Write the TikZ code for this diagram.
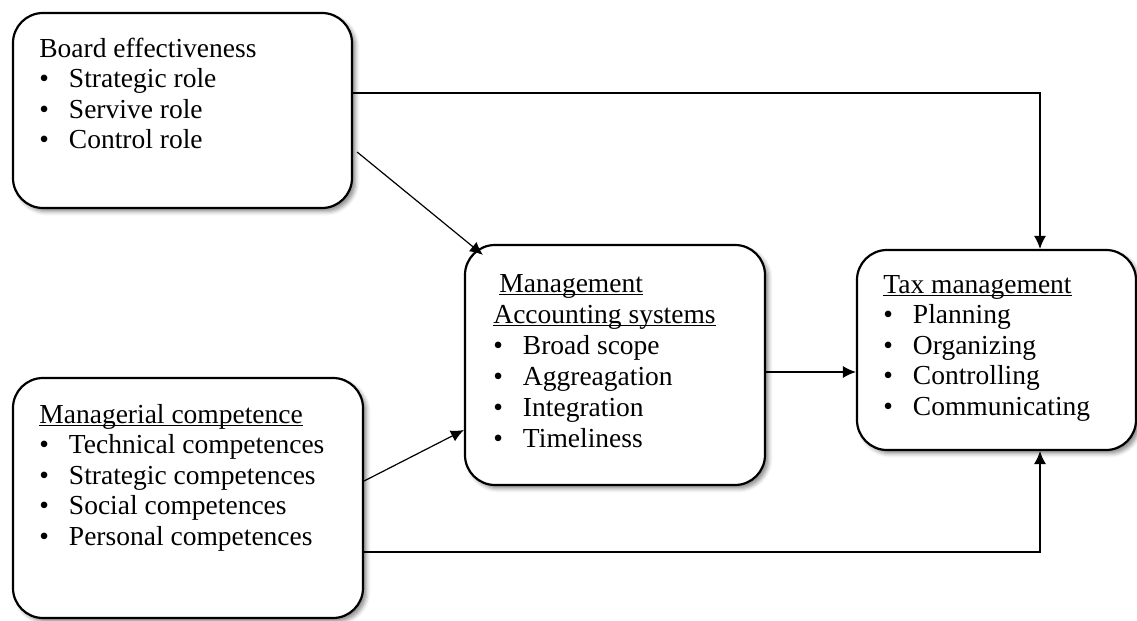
\documentclass[tikz,border=0pt]{standalone}
\usepackage{fontspec}
\setmainfont{Liberation Serif}
\usetikzlibrary{arrows.meta,shadows.blur,calc}
\newcommand\ulx[1]{\setbox0\hbox{#1}\rlap{\rule[-1.6pt]{\wd0}{0.5pt}}\box0}
\newcommand\itm[1]{\makebox[14.8pt][l]{\textbullet}#1}
\begin{document}
\begin{tikzpicture}[x=0.5pt,y=-0.5pt,
  box/.style={draw=black,line width=1.1pt,rounded corners=15pt,fill=white,
    blur shadow={shadow xshift=1.8pt,shadow yshift=-1.8pt,shadow blur radius=2pt,shadow opacity=45},
    inner sep=0pt},
  txt/.style={anchor=base west,inner sep=0pt,font=\fontsize{13.75pt}{15.25pt}\selectfont},
  arr/.style={line width=0.6pt,-{Latex[length=6.5pt,width=6pt]}}]
\useasboundingbox (0,0) rectangle (1137,621);
% boxes
\node[box,minimum width=169.5pt,minimum height=97.5pt] (b1) at (182.5,110.5) {};
\node[box,minimum width=175pt,minimum height=120pt] (b2) at (188,498) {};
\node[box,minimum width=150pt,minimum height=120pt] (b3) at (615,365) {};
\node[box,minimum width=139.5pt,minimum height=100pt] (b4) at (996.5,350) {};
% texts
\node[txt] (t1) at (39,57) {\def\arraystretch{1}\begin{tabular}[t]{@{}l@{}}
Board effectiveness\\ \itm{Strategic role}\\ \itm{Servive role}\\ \itm{Control role}\end{tabular}};
\node[txt] (t2) at (39,423) {\def\arraystretch{1}\begin{tabular}[t]{@{}l@{}}
\ulx{Managerial competence}\\ \itm{Technical competences}\\ \itm{Strategic competences}\\ \itm{Social competences}\\ \itm{Personal competences}\end{tabular}};
\node[txt] (t3) at (493,292) {\def\arraystretch{1.02}\begin{tabular}[t]{@{}l@{}}
\hspace{3pt}\ulx{Management}\\ \ulx{Accounting systems}\\ \itm{Broad scope}\\ \itm{Aggreagation}\\ \itm{Integration}\\ \itm{Timeliness}\end{tabular}};
\node[txt] (t4) at (883,293) {\def\arraystretch{1}\begin{tabular}[t]{@{}l@{}}
\ulx{Tax management}\\ \itm{Planning}\\ \itm{Organizing}\\ \itm{Controlling}\\ \itm{Communicating}\end{tabular}};
% connectors
\coordinate (k1) at (1040,93);
\coordinate (k2) at (1040,552);
\draw[arr] (b1.east |- k1) -- (k1) -- (k1 |- b4.north);
\draw[arr] ($(b1.east)+(4,41.5)$) -- ($(b3.north west)+(19,11)$);
\draw[arr] ($(b2.east)+(0,-17)$) -- (b3.west |- 0,430);
\draw[arr] (b3.east |- 0,372) -- (b4.west |- 0,372);
\draw[arr] (b2.east |- k2) -- (k2) -- (k2 |- b4.south);
\end{tikzpicture}
\end{document}
